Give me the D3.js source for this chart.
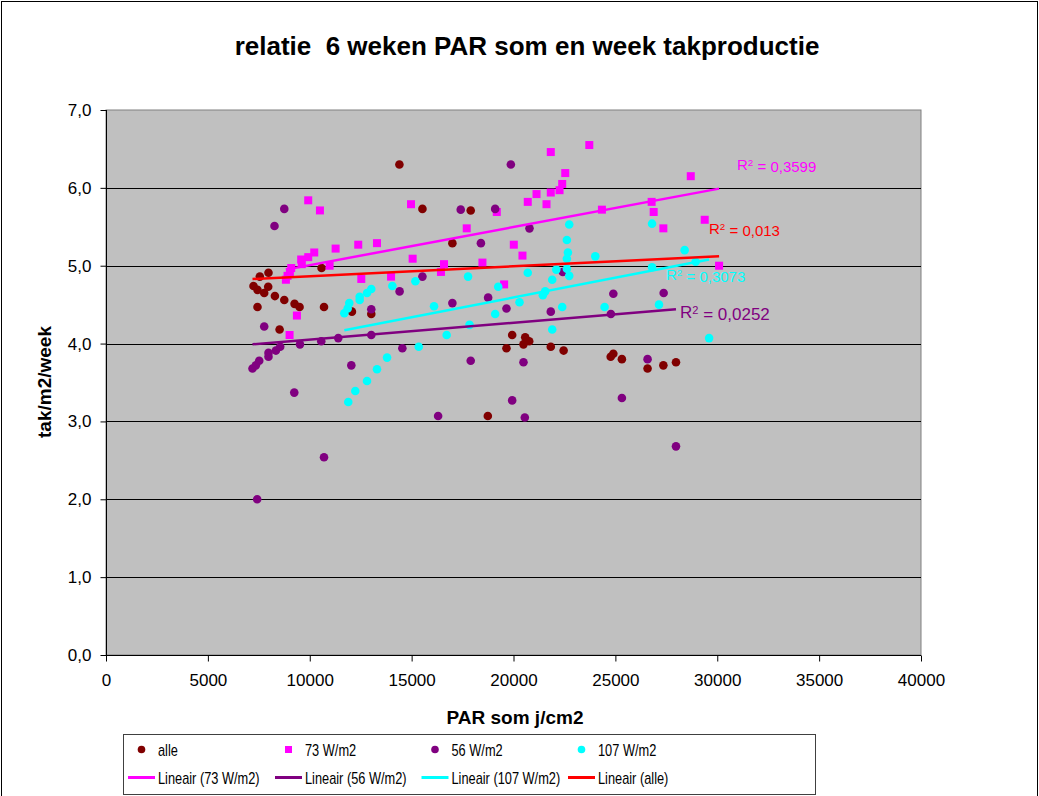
<!DOCTYPE html>
<html>
<head>
<meta charset="utf-8">
<script src="https://cdn.jsdelivr.net/npm/d3@7"></script>
<style>
  body { margin: 0; background: #fff; }
  text { font-family: Arial, "Liberation Sans", sans-serif; }
</style>
</head>
<body>
<div id="chart"></div>
<script>
// PAR som (j/cm2), takken per m2 per week
const alle = [
  [14400, 6.30], [10580, 4.97], [7975, 4.91], [7550, 4.86], [7240, 4.74], [7435, 4.69],
  [7960, 4.73], [7765, 4.65], [8290, 4.61], [8750, 4.56], [9255, 4.51], [9500, 4.47],
  [7435, 4.47], [10700, 4.47], [12070, 4.41], [13020, 4.38], [8520, 4.18], [15530, 5.73],
  [17900, 5.71], [17000, 5.29], [19935, 4.11], [20575, 4.08], [20770, 4.03], [20490, 3.99],
  [19655, 3.94], [21830, 3.96], [22460, 3.91], [18740, 3.07], [24770, 3.83], [24900, 3.87],
  [25320, 3.80], [26580, 3.68], [27355, 3.72], [27975, 3.76]
]

const w73 = [
  [9925, 5.84], [10500, 5.71], [14970, 5.79], [11270, 5.22], [12380, 5.27], [13300, 5.29],
  [10220, 5.17], [9925, 5.11], [9580, 5.08], [9610, 5.02], [9090, 4.97], [9025, 4.92],
  [8910, 4.87], [8830, 4.82], [10975, 5.00], [15050, 5.09], [12530, 4.83], [13990, 4.86],
  [9370, 4.36], [9010, 4.11], [17705, 5.48], [19180, 5.69], [20700, 5.82], [21130, 5.92],
  [21620, 5.79], [21830, 5.94], [22260, 5.97], [22390, 6.05], [22540, 6.19], [21830, 6.46],
  [23720, 6.55], [20015, 5.27], [20440, 5.13], [16590, 5.02], [16440, 4.92], [18475, 5.04],
  [19540, 4.76], [28700, 6.15], [26780, 5.82], [24340, 5.72], [26880, 5.69], [27355, 5.48],
  [29385, 5.59], [30090, 5.00]
]

const w56 = [
  [8750, 5.73], [8270, 5.51], [14410, 4.67], [13020, 4.44], [7765, 4.22], [7190, 3.68],
  [7355, 3.72], [7520, 3.78], [7975, 3.88], [7975, 3.83], [8340, 3.91], [8550, 3.96],
  [9520, 3.99], [10565, 4.03], [11400, 4.07], [13020, 4.11], [14545, 3.94], [12040, 3.72],
  [9240, 3.37], [10700, 2.54], [7420, 2.00], [19870, 6.30], [17410, 5.72], [19100, 5.73],
  [20785, 5.48], [18400, 5.29], [15530, 4.86], [22420, 4.92], [17000, 4.52], [18755, 4.59],
  [19655, 4.45], [21830, 4.41], [17900, 3.78], [20490, 3.76], [19935, 3.27], [16300, 3.07],
  [20555, 3.05], [26580, 3.80], [25320, 3.30], [27975, 2.68], [24780, 4.38], [24900, 4.64],
  [27370, 4.65]
]

const w107 = [
  [14055, 4.74], [15185, 4.80], [13020, 4.70], [12810, 4.65], [12450, 4.60], [12450, 4.56],
  [11940, 4.52], [11860, 4.45], [11695, 4.39], [11890, 3.25], [12235, 3.39], [12810, 3.52],
  [13300, 3.67], [13795, 3.82], [15350, 3.96], [17770, 4.86], [19250, 4.73], [20700, 4.91],
  [22100, 4.95], [22620, 4.96], [22735, 4.87], [21900, 4.82], [21440, 4.62], [21555, 4.67],
  [22735, 5.53], [22620, 5.33], [22670, 5.17], [22620, 5.09], [24015, 5.12], [16100, 4.48],
  [19100, 4.38], [20295, 4.53], [22390, 4.47], [17840, 4.24], [16720, 4.11], [21900, 4.18],
  [26800, 5.54], [28400, 5.20], [26800, 4.98], [28940, 5.05], [24470, 4.47], [27140, 4.50],
  [29600, 4.07]
]

// lineaire trendlijnen: begin- en eindpunt [x, y]
const trendLines = [
  { name: 'Lineair (73 W/m2)', color: '#ff00ff', pts: [[8830, 4.95], [30090, 5.99]], r2: '0,3599' },
  { name: 'Lineair (56 W/m2)', color: '#800080', pts: [[7190, 3.99], [27975, 4.44]], r2: '0,0252' },
  { name: 'Lineair (107 W/m2)', color: '#00ffff', pts: [[11695, 4.17], [29600, 5.08]], r2: '0,3073' },
  { name: 'Lineair (alle)', color: '#ff0000', pts: [[7190, 4.83], [30090, 5.12]], r2: '0,013' }
]

const xTicks = [0, 5000, 10000, 15000, 20000, 25000, 30000, 35000, 40000]
const yTicks = [0, 1, 2, 3, 4, 5, 6, 7]

const series = [
  { name: 'alle', data: alle, color: '#800000', shape: 'circle' },
  { name: '73 W/m2', data: w73, color: '#ff00ff', shape: 'square' },
  { name: '56 W/m2', data: w56, color: '#800080', shape: 'circle' },
  { name: '107 W/m2', data: w107, color: '#00ffff', shape: 'circle' }
]

const WIDTH = 1039
const HEIGHT = 796
const plot = { left: 106, top: 110, right: 921, bottom: 655 }

// plek van de R2 labels (pixels) en lettergrootte
const r2Layout = [
  { x: 737, y: 170, size: 15 },
  { x: 680, y: 318, size: 17 },
  { x: 666, y: 280, size: 15 },
  { x: 709, y: 234, size: 15 }
]

const svg = d3.select('#chart')
  .append('svg')
  .attr('width', WIDTH)
  .attr('height', HEIGHT)

svg.append('rect')
  .attr('x', 1.5).attr('y', 1.5)
  .attr('width', WIDTH - 3).attr('height', HEIGHT + 10)
  .attr('fill', '#fff')
  .attr('stroke', '#000')

const x = d3.scaleLinear().domain([0, 40000]).range([plot.left, plot.right])
const y = d3.scaleLinear().domain([0, 7]).range([plot.bottom, plot.top])

svg.append('rect')
  .attr('x', plot.left).attr('y', plot.top)
  .attr('width', plot.right - plot.left).attr('height', plot.bottom - plot.top)
  .attr('fill', '#c0c0c0')
  .attr('stroke', '#808080')

svg.append('g')
  .selectAll('line')
  .data(yTicks.filter(d => d > 0 && d < 7))
  .enter()
  .append('line')
  .attr('x1', plot.left).attr('x2', plot.right)
  .attr('y1', d => Math.round(y(d)) + 0.5).attr('y2', d => Math.round(y(d)) + 0.5)
  .attr('stroke', '#000')

const fmt = d => d3.format('.1f')(d).replace('.', ',')

const yAxis = svg.append('g')
  .attr('transform', `translate(${plot.left + 0.5},0)`)
  .call(d3.axisLeft(y).tickValues(yTicks).tickFormat(fmt).tickSize(6).tickPadding(9))
yAxis.selectAll('text').attr('font-size', 17).attr('fill', '#000')
  .attr('font-family', 'Arial, "Liberation Sans", sans-serif')
yAxis.selectAll('line, path').attr('stroke', '#000')
yAxis.select('.domain').attr('d', `M0,${plot.top}V${plot.bottom}`)

const xAxis = svg.append('g')
  .attr('transform', `translate(0,${plot.bottom + 0.5})`)
  .call(d3.axisBottom(x).tickValues(xTicks).tickFormat(d3.format('d')).tickSize(6).tickPadding(12))
xAxis.selectAll('text').attr('font-size', 17).attr('fill', '#000')
  .attr('font-family', 'Arial, "Liberation Sans", sans-serif')
xAxis.selectAll('line, path').attr('stroke', '#000')
xAxis.select('.domain').attr('d', `M${plot.left},0H${plot.right}`)

function drawMarkers (params) {
  const { container, s } = params
  const g = container.append('g')
  if (s.shape === 'square') {
    g.selectAll('rect')
      .data(s.data)
      .enter()
      .append('rect')
      .attr('x', d => x(d[0]) - 4)
      .attr('y', d => y(d[1]) - 4)
      .attr('width', 8).attr('height', 8)
      .attr('fill', s.color)
  } else {
    g.selectAll('circle')
      .data(s.data)
      .enter()
      .append('circle')
      .attr('cx', d => x(d[0]))
      .attr('cy', d => y(d[1]))
      .attr('r', 4.3)
      .attr('fill', s.color)
  }
}

series.forEach(s => drawMarkers({ container: svg, s }))

const line = d3.line().x(d => x(d[0])).y(d => y(d[1]))

svg.append('g')
  .selectAll('path')
  .data(trendLines)
  .enter()
  .append('path')
  .attr('d', d => line(d.pts))
  .attr('stroke', d => d.color)
  .attr('stroke-width', 2.5)
  .attr('fill', 'none')

const r2 = svg.append('g')
  .selectAll('text')
  .data(trendLines)
  .enter()
  .append('text')
  .attr('x', (d, i) => r2Layout[i].x)
  .attr('y', (d, i) => r2Layout[i].y)
  .attr('font-size', (d, i) => r2Layout[i].size)
  .attr('fill', d => d.color)
r2.append('tspan').text('R')
r2.append('tspan').attr('dy', '-0.4em').attr('font-size', '0.65em').text('2')
r2.append('tspan').attr('dy', '0.4em').text(d => ' = ' + d.r2)

// titels
svg.append('text')
  .attr('x', 527).attr('y', 55)
  .attr('text-anchor', 'middle')
  .attr('font-size', 26).attr('font-weight', 'bold')
  .attr('xml:space', 'preserve')
  .text('relatie  6 weken PAR som en week takproductie')

svg.append('text')
  .attr('x', 515).attr('y', 724)
  .attr('text-anchor', 'middle')
  .attr('font-size', 19).attr('font-weight', 'bold')
  .text('PAR som j/cm2')

svg.append('text')
  .attr('transform', 'translate(51,382) rotate(-90)')
  .attr('text-anchor', 'middle')
  .attr('font-size', 19).attr('font-weight', 'bold')
  .text('tak/m2/week')

// legenda
const legend = svg.append('g')
legend.append('rect')
  .attr('x', 123.5).attr('y', 734.5)
  .attr('width', 692).attr('height', 60)
  .attr('fill', '#fff')
  .attr('stroke', '#404040')

const colX = [128, 275, 421.5, 568]

// smalle letters zoals in het origineel
function legendText (params) {
  const { tx, ty, label } = params
  legend.append('text')
    .attr('transform', `translate(${tx},${ty}) scale(0.8,1)`)
    .attr('font-size', 16)
    .text(label)
}

series.forEach((s, i) => {
  const cx = colX[i] + 13.5
  if (s.shape === 'square') {
    legend.append('rect').attr('x', cx - 3.5).attr('y', 746).attr('width', 7).attr('height', 7).attr('fill', s.color)
  } else {
    legend.append('circle').attr('cx', cx).attr('cy', 749.5).attr('r', 3.8).attr('fill', s.color)
  }
  legendText({ tx: colX[i] + 30, ty: 755.5, label: s.name })
})

trendLines.forEach((t, i) => {
  legend.append('line')
    .attr('x1', colX[i]).attr('x2', colX[i] + 27)
    .attr('y1', 777.5).attr('y2', 777.5)
    .attr('stroke', t.color).attr('stroke-width', 3)
  legendText({ tx: colX[i] + 30, ty: 783.5, label: t.name })
})
</script>
</body>
</html>
